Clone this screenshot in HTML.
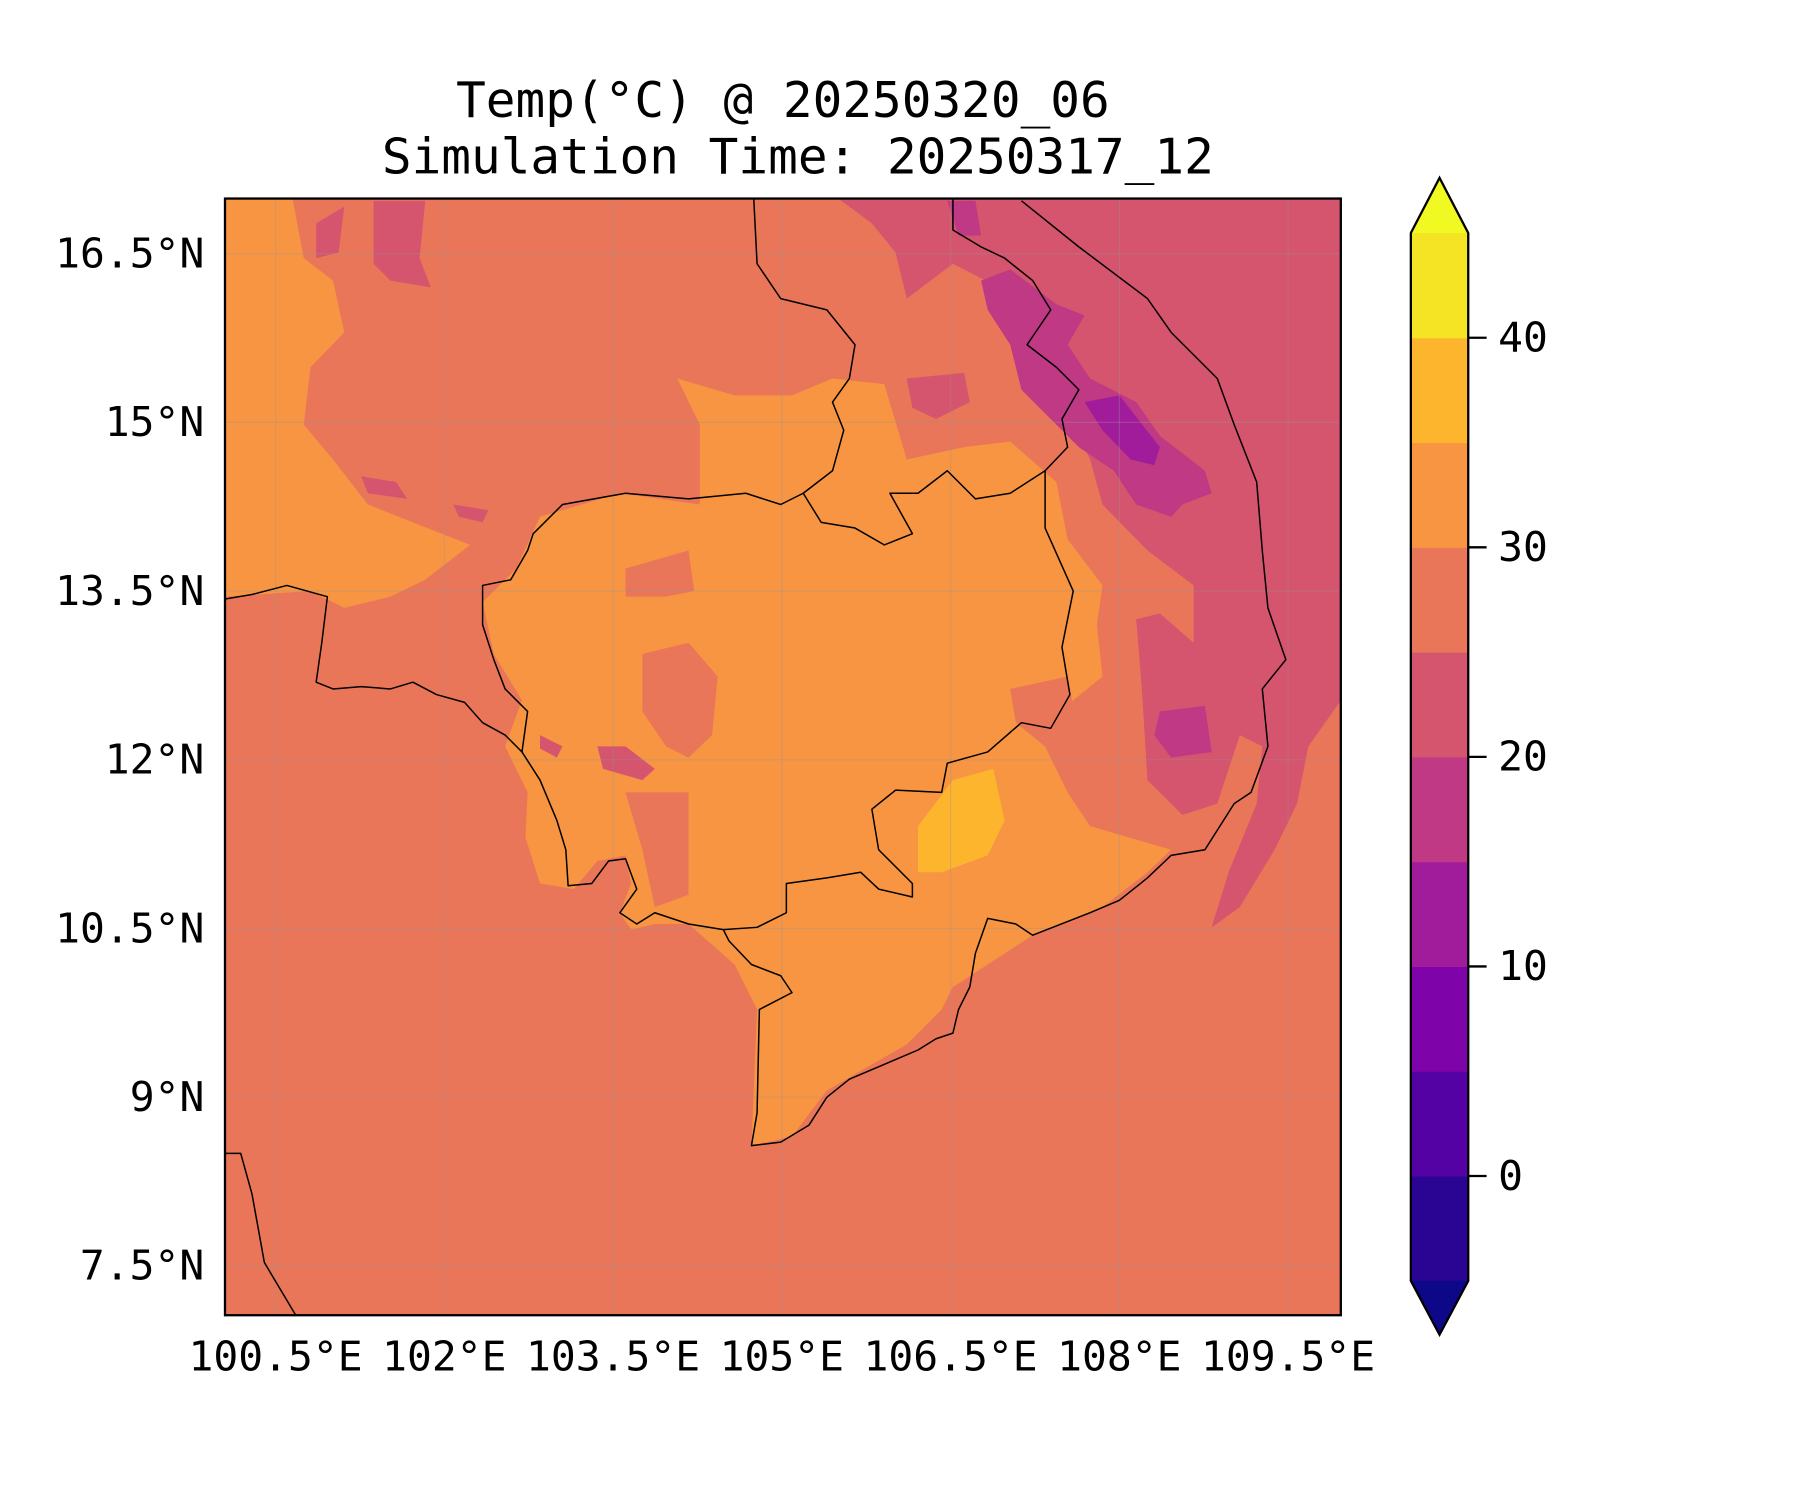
<!DOCTYPE html>
<html><head><meta charset="utf-8"><style>
html,body{margin:0;padding:0;background:#fff;}
svg{display:block;}
text{font-family:"DejaVu Sans Mono","Liberation Mono",monospace;fill:#000;}
</style></head>
<body>
<svg id="fig" width="1800" height="1500" viewBox="0 0 1568 1307" preserveAspectRatio="none" xmlns="http://www.w3.org/2000/svg">
<text x="682" y="102" font-size="43" text-anchor="middle">Temp(°C) @ 20250320_06</text>
<text x="695" y="151" font-size="43" text-anchor="middle">Simulation Time: 20250317_12</text>
<defs><clipPath id="clip"><rect x="196" y="173" width="972" height="973"/></clipPath></defs>
<g id="map" clip-path="url(#clip)"></g>
<g id="grid" clip-path="url(#clip)"></g>
<g id="coast" clip-path="url(#clip)"></g>
<rect x="196" y="173" width="972" height="973" fill="none" stroke="#000" stroke-width="2"/>
<g id="xt"></g>
<g id="yt"></g>
<g id="cbar"></g>
</svg>
<script>
const NS="http://www.w3.org/2000/svg";
const xTicks=[100.5,102,103.5,105,106.5,108,109.5];
const xTickLabels=["100.5°E","102°E","103.5°E","105°E","106.5°E","108°E","109.5°E"];
const yTicks=[16.5,15,13.5,12,10.5,9,7.5];
const yTickLabels=["16.5°N","15°N","13.5°N","12°N","10.5°N","9°N","7.5°N"];
const cbLevels=[-5,0,5,10,15,20,25,30,35,40,45];
const cbColors=["#2a0593","#5402a3","#7e03a8","#a11c9b","#bf3984","#d5546e","#e97659","#f79543","#fdb52e","#f4e424"];
const cbTicks=[0,10,20,30,40];
const backgroundColor="#e97659";
const regionLevels=[30,30,20,20,20,20,20,20,20,20,15,15,15,10,25,25,25,25,35];
const regions=[
[[100.05,16.99],[100.65,16.99],[100.75,16.46],[101.01,16.26],[101.11,15.80],[100.81,15.49],[100.75,14.98],[101.01,14.67],[101.32,14.27],[101.72,14.11],[102.23,13.91],[101.83,13.60],[101.52,13.45],[101.11,13.35],[100.81,13.50],[100.05,13.45]],
[[102.85,14.16],[103.56,14.37],[104.27,14.27],[104.27,14.98],[104.07,15.39],[104.58,15.24],[105.09,15.24],[105.45,15.39],[105.91,15.34],[106.11,14.67],[106.62,14.78],[107.03,14.83],[107.44,14.47],[107.54,13.96],[107.85,13.55],[107.80,13.20],[107.85,12.74],[107.59,12.53],[107.34,12.12],[107.54,11.71],[107.74,11.41],[108.46,11.20],[108.25,11.00],[107.85,10.69],[107.23,10.44],[106.83,10.18],[106.52,9.98],[106.42,9.78],[106.11,9.47],[105.40,9.06],[105.09,8.65],[104.73,8.57],[104.78,9.78],[104.58,10.18],[104.17,10.54],[103.87,10.54],[103.66,10.49],[103.56,10.64],[103.66,10.90],[103.61,11.15],[103.36,11.10],[103.15,10.85],[102.85,10.90],[102.72,11.31],[102.74,11.71],[102.54,12.12],[102.69,12.53],[102.44,12.94],[102.34,13.40],[102.64,13.70]],
[[105.50,16.99],[109.97,16.99],[109.97,12.53],[109.68,12.12],[109.58,11.61],[109.38,11.20],[109.07,10.69],[108.82,10.51],[108.97,11.00],[109.22,11.61],[109.27,12.12],[109.07,12.22],[108.87,11.61],[108.56,11.51],[108.25,11.82],[108.20,12.63],[108.15,13.25],[108.36,13.30],[108.66,13.04],[108.66,13.55],[108.25,13.86],[107.85,14.27],[107.74,14.67],[107.54,15.08],[107.23,15.29],[107.03,15.69],[106.93,16.20],[106.52,16.41],[106.11,16.10],[106.01,16.51],[105.80,16.77]],
[[106.11,15.39],[106.62,15.44],[106.67,15.18],[106.37,15.03],[106.16,15.13]],
[[101.37,16.97],[101.83,16.97],[101.78,16.46],[101.88,16.20],[101.52,16.26],[101.37,16.41]],
[[100.86,16.77],[101.11,16.92],[101.06,16.51],[100.86,16.46]],
[[101.26,14.52],[101.57,14.47],[101.67,14.32],[101.32,14.37]],
[[102.08,14.27],[102.39,14.22],[102.34,14.11],[102.13,14.16]],
[[103.36,12.12],[103.61,12.12],[103.87,11.92],[103.76,11.82],[103.41,11.92]],
[[102.85,12.22],[103.05,12.12],[103.00,12.02],[102.85,12.10]],
[[106.77,16.26],[107.03,16.36],[107.44,16.05],[107.69,15.95],[107.54,15.69],[107.74,15.39],[108.15,15.18],[108.36,14.88],[108.76,14.57],[108.82,14.37],[108.56,14.27],[108.46,14.16],[108.15,14.27],[107.95,14.57],[107.64,14.78],[107.44,14.98],[107.13,15.29],[107.03,15.69],[106.83,16.00]],
[[108.36,12.43],[108.76,12.48],[108.82,12.07],[108.46,12.02],[108.31,12.22]],
[[106.47,16.97],[106.72,16.97],[106.77,16.66],[106.57,16.66]],
[[107.69,15.18],[108.00,15.24],[108.36,14.78],[108.31,14.62],[108.10,14.67],[107.85,14.93]],
[[103.61,13.70],[104.17,13.86],[104.22,13.50],[103.97,13.45],[103.61,13.45]],
[[103.76,12.94],[104.17,13.04],[104.43,12.74],[104.38,12.22],[104.17,12.02],[103.97,12.12],[103.76,12.43]],
[[107.03,12.63],[107.54,12.74],[107.64,12.22],[107.34,12.12],[107.08,12.33]],
[[103.61,11.71],[104.17,11.71],[104.17,10.80],[103.87,10.69],[103.76,11.20]],
[[106.21,11.41],[106.52,11.82],[106.88,11.92],[106.98,11.46],[106.83,11.15],[106.42,11.00],[106.21,11.00]]
];
const lines=[
[[107.13,16.97],[107.64,16.56],[108.25,16.10],[108.46,15.80],[108.87,15.39],[109.02,14.98],[109.22,14.47],[109.27,13.86],[109.32,13.35],[109.48,12.89],[109.27,12.63],[109.32,12.12],[109.17,11.71],[109.02,11.61],[108.76,11.20],[108.46,11.15],[108.25,10.95],[108.00,10.75],[107.74,10.64],[107.23,10.44],[107.08,10.54],[106.83,10.59],[106.72,10.28],[106.67,9.98],[106.57,9.78],[106.52,9.57],[106.37,9.52],[106.21,9.42],[105.60,9.16],[105.40,9.00],[105.24,8.75],[104.99,8.60],[104.73,8.57],[104.78,8.86],[104.80,9.78],[105.09,9.93],[104.99,10.08],[104.73,10.18],[104.53,10.39],[104.48,10.49],[104.17,10.54],[103.87,10.64],[103.71,10.54],[103.56,10.64],[103.71,10.85],[103.61,11.12],[103.46,11.10],[103.31,10.90],[103.10,10.88],[103.08,11.20],[103.00,11.46],[102.85,11.82],[102.69,12.07],[102.54,12.22],[102.34,12.33],[102.18,12.51],[101.93,12.58],[101.72,12.69],[101.52,12.63],[101.26,12.65],[101.01,12.63],[100.86,12.69],[100.91,13.04],[100.96,13.45],[100.60,13.55],[100.29,13.47],[100.05,13.43]],
[[102.69,12.07],[102.74,12.43],[102.54,12.63],[102.44,12.89],[102.34,13.20],[102.34,13.55],[102.59,13.60],[102.74,13.86],[102.79,14.01],[103.05,14.27],[103.61,14.37],[104.17,14.32],[104.68,14.37],[104.99,14.27],[105.19,14.37],[105.45,14.57],[105.55,14.93],[105.45,15.18],[105.60,15.39],[105.65,15.69],[105.40,16.00],[104.99,16.10],[104.78,16.41],[104.75,16.99]],
[[105.19,14.37],[105.35,14.11],[105.65,14.06],[105.91,13.91],[106.16,14.01],[105.96,14.37],[106.21,14.37],[106.47,14.57],[106.72,14.32],[107.03,14.37],[107.34,14.57],[107.54,14.78],[107.49,15.03],[107.64,15.29],[107.44,15.49],[107.18,15.69],[107.39,16.00],[107.23,16.26],[106.98,16.46],[106.77,16.56],[106.52,16.71],[106.52,16.99]],
[[107.34,14.57],[107.34,14.06],[107.59,13.50],[107.49,13.00],[107.56,12.58],[107.39,12.28],[107.13,12.33],[106.83,12.07],[106.47,11.97],[106.42,11.71],[106.01,11.73],[105.80,11.56],[105.86,11.20],[106.16,10.90],[106.16,10.78],[105.86,10.85],[105.70,11.00],[105.40,10.95],[105.04,10.90],[105.04,10.64],[104.78,10.51],[104.48,10.49]],
[[100.05,8.50],[100.19,8.50],[100.29,8.14],[100.40,7.53],[100.68,7.06]]
];
const X0=196,Y0=173,PX=98,LON0=100.05,LAT0=16.99;
const xs=lon=>X0+(lon-LON0)*PX;
const ys=lat=>Y0+(LAT0-lat)*PX;
function colorFor(v){const i=cbLevels.findIndex((l,k)=>v>=l&&v<cbLevels[k+1]);return cbColors[Math.max(0,i)];}
function mk(tag,attrs,parent){const e=document.createElementNS(NS,tag);for(const k in attrs)e.setAttribute(k,attrs[k]);parent.appendChild(e);return e;}
(function(){
const map=document.getElementById('map');
const bg=mk('rect',{x:X0,y:Y0,width:972,height:973,fill:backgroundColor},map);


regions.forEach((poly,i)=>{
  const p=mk('polygon',{points:poly.map(q=>xs(q[0]).toFixed(1)+','+ys(q[1]).toFixed(1)).join(' '),fill:colorFor(regionLevels[i])},map);
  
  
});
const grid=document.getElementById('grid');
xTicks.forEach(t=>{const l=mk('line',{x1:xs(t),x2:xs(t),y1:173,y2:1146,stroke:'rgba(150,150,150,0.35)','stroke-width':1},grid);

});
yTicks.forEach(t=>{const l=mk('line',{y1:ys(t),y2:ys(t),x1:196,x2:1168,stroke:'rgba(150,150,150,0.35)','stroke-width':1},grid);

});
const coast=document.getElementById('coast');
lines.forEach(ln=>{const p=mk('polyline',{points:ln.map(q=>xs(q[0]).toFixed(1)+','+ys(q[1]).toFixed(1)).join(' '),fill:'none',stroke:'#000','stroke-width':1.3,'stroke-linejoin':'round'},coast);

});
const xt=document.getElementById('xt');
xTicks.forEach((t,i)=>{const e=mk('text',{x:xs(t),y:1194,'font-size':36,'text-anchor':'middle'},xt);e.textContent=xTickLabels[i];

});
const yt=document.getElementById('yt');
yTicks.forEach((t,i)=>{const e=mk('text',{x:178,y:ys(t)+12,'font-size':36,'text-anchor':'end'},yt);e.textContent=yTickLabels[i];

});
const cb=document.getElementById('cbar');
const CBX=1229,CBW=50,CBT=203,CBB=1116;
const cy=v=>CBB-(v-cbLevels[0])/(cbLevels[cbLevels.length-1]-cbLevels[0])*(CBB-CBT);
cbColors.forEach((c,i)=>{const r=mk('rect',{x:CBX,y:cy(cbLevels[i+1]),width:CBW,height:cy(cbLevels[i])-cy(cbLevels[i+1])+0.5,fill:c},cb);

});
const topTri=mk('polygon',{points:`${CBX},${CBT} ${CBX+CBW/2},155 ${CBX+CBW},${CBT}`,fill:'#f0f921'},cb);


const botTri=mk('polygon',{points:`${CBX},${CBB} ${CBX+CBW/2},1163 ${CBX+CBW},${CBB}`,fill:'#0d0887'},cb);


const outline=mk('polygon',{points:`${CBX},${CBT} ${CBX+CBW/2},155 ${CBX+CBW},${CBT} ${CBX+CBW},${CBB} ${CBX+CBW/2},1163 ${CBX},${CBB}`,fill:'none',stroke:'#000','stroke-width':2},cb);


cbTicks.forEach(t=>{const l=mk('line',{x1:CBX+CBW,x2:CBX+CBW+16,y1:cy(t),y2:cy(t),stroke:'#000','stroke-width':2},cb);


const e=mk('text',{x:1305,y:cy(t)+12,'font-size':36},cb);e.textContent=String(t);

});
})();
</script>
</body></html>
